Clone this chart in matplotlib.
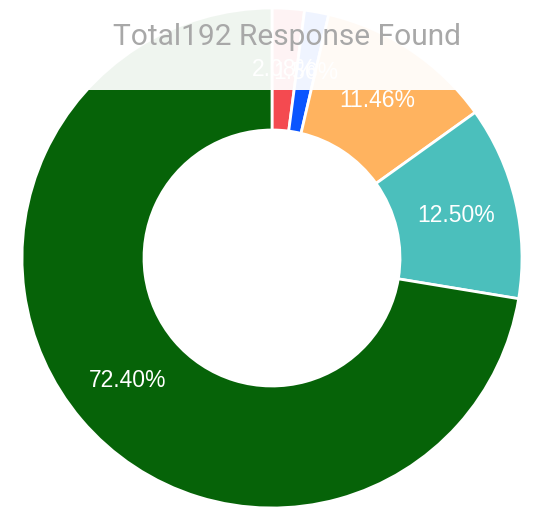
import matplotlib.pyplot as plt
from matplotlib.patches import Rectangle

counts = [4, 3, 22, 24, 139]
labels = ["2.08%", "1.56%", "11.46%", "12.50%", "72.40%"]
colors = ["#f44a50", "#0a55ff", "#ffb35f", "#4bbfbc", "#066308"]
title = "Total192 Response Found"

W, H = 535, 516
fig = plt.figure(figsize=(W / 100, H / 100), dpi=100)
ax = fig.add_axes([0, 0, 1, 1])

cx, cy, r_out = 272, 258, 250
r_in = 128
wedges, texts = ax.pie(
    counts,
    colors=colors,
    startangle=90,
    counterclock=False,
    center=(cx, cy),
    radius=r_out,
    labels=labels,
    labeldistance=(r_out + r_in) / 2 / r_out,
    wedgeprops=dict(width=r_out - r_in, edgecolor="white", linewidth=2),
    textprops=dict(color="white", fontsize=16.5, family="Liberation Sans",
                   ha="center", va="center"),
    frame=True,
)
ax.set_xlim(0, W)
ax.set_ylim(0, H)
ax.set_aspect("equal")
ax.axis("off")

# faded header band over top of the chart
ax.add_patch(Rectangle((0, H - 90), W, 90, facecolor="white", alpha=0.94,
                       edgecolor="none", zorder=5))
ax.text(287, H - 37, title, color="#a8a8a8", fontsize=21.5, family="Roboto",
        ha="center", va="center", zorder=6)

fig.savefig("out.png", dpi=100)
